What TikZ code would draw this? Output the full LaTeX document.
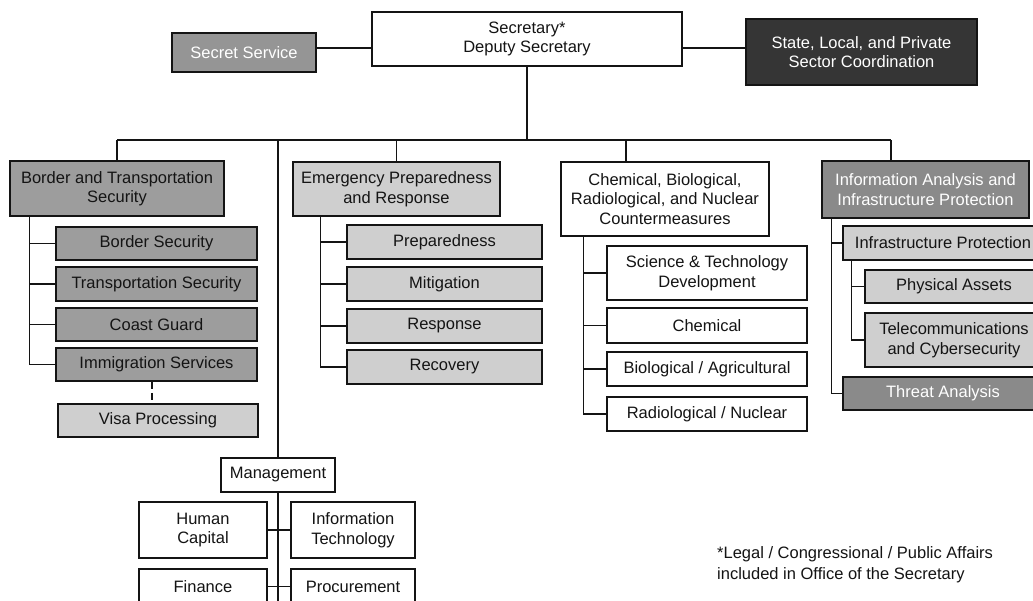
\documentclass[tikz,border=0pt]{standalone}
\usepackage{fontspec}
\setmainfont{Liberation Sans}
\definecolor{ink}{HTML}{141414}
\definecolor{midgray}{HTML}{9D9D9D}
\definecolor{ssgray}{HTML}{959595}
\definecolor{darkgray}{HTML}{8A8A8A}
\definecolor{lightgray}{HTML}{CFCFCF}
\definecolor{charcoal}{HTML}{353535}
\tikzset{
  box/.style={draw=ink, line width=1.5pt, inner sep=0pt, align=center,
              text=ink, font=\fontsize{16.5}{19.5}\selectfont},
  plainbox/.style={box, fill=white},
  midbox/.style={box, fill=midgray},
  lightbox/.style={box, fill=lightgray},
  darkbox/.style={box, fill=darkgray, text=white},
  link/.style={draw=ink, line width=1.4pt},
}
\begin{document}
\begin{tikzpicture}[x=1pt, y=-1pt]
\useasboundingbox (0,0) rectangle (1033,600);
\clip (0,0) rectangle (1033,600);
\fill[white] (0,0) rectangle (1033,600);

% top level
\node[plainbox, minimum width=310pt, minimum height=54pt] (sec) at (527,39) {Secretary*\\Deputy Secretary};
\node[box, fill=ssgray, text=white, minimum width=144pt, minimum height=39pt] (ss) at (244,52.5) {Secret Service};
\node[box, fill=charcoal, text=white, minimum width=231pt, minimum height=66pt] (slp) at (861.5,52) {State, Local, and Private\\Sector Coordination};

% Border and Transportation Security
\node[midbox, minimum width=214pt, minimum height=55pt] (bts) at (117,188.5) {Border and Transportation\\Security};
\node[midbox, minimum width=201pt, minimum height=33pt] (bs) at (156.5,243.5) {Border Security};
\node[midbox, minimum width=201pt, minimum height=34pt] (ts) at (156.5,284) {Transportation Security};
\node[midbox, minimum width=201pt, minimum height=33pt] (cg) at (156.5,324.5) {Coast Guard};
\node[midbox, minimum width=201pt, minimum height=33pt] (is) at (156.5,364.5) {Immigration Services};
\node[lightbox, minimum width=200pt, minimum height=33pt] (vp) at (158,420.5) {Visa Processing};

% Emergency Preparedness and Response
\node[lightbox, minimum width=207pt, minimum height=54pt] (epr) at (396.5,189) {Emergency Preparedness\\and Response};
\node[lightbox, minimum width=195pt, minimum height=34pt] (prep) at (444.5,242) {Preparedness};
\node[lightbox, minimum width=195pt, minimum height=34pt] (mit) at (444.5,284) {Mitigation};
\node[lightbox, minimum width=195pt, minimum height=34pt] (resp) at (444.5,326) {Response};
\node[lightbox, minimum width=195pt, minimum height=34pt] (rec) at (444.5,367) {Recovery};

% Chemical, Biological, Radiological, and Nuclear Countermeasures
\node[plainbox, minimum width=208pt, minimum height=74pt] (cbrn) at (665,199) {Chemical, Biological,\\Radiological, and Nuclear\\Countermeasures};
\node[plainbox, minimum width=200pt, minimum height=54pt] (st) at (707,273) {Science \& Technology\\Development};
\node[plainbox, minimum width=200pt, minimum height=35pt] (chem) at (707,325.5) {Chemical};
\node[plainbox, minimum width=200pt, minimum height=34pt] (bio) at (707,369) {Biological / Agricultural};
\node[plainbox, minimum width=200pt, minimum height=34pt] (rad) at (707,414) {Radiological / Nuclear};

% Information Analysis and Infrastructure Protection
\node[darkbox, minimum width=207pt, minimum height=57pt] (iaip) at (925.5,189.5) {Information Analysis and\\Infrastructure Protection};
\node[lightbox, minimum width=200pt, minimum height=34pt] (ip) at (943,243) {Infrastructure Protection};
\node[lightbox, minimum width=178pt, minimum height=33pt] (pa) at (954,286.5) {Physical Assets};
\node[lightbox, minimum width=178pt, minimum height=54pt] (tc) at (954,340) {Telecommunications\\and Cybersecurity};
\node[darkbox, minimum width=200pt, minimum height=33pt] (ta) at (943,393.5) {Threat Analysis};

% Management
\node[plainbox, minimum width=114pt, minimum height=34pt] (mgmt) at (278,475) {Management};
\node[plainbox, minimum width=128pt, minimum height=56pt] (hc) at (203,530) {Human\\Capital};
\node[plainbox, minimum width=124pt, minimum height=56pt] (it) at (353,530) {Information\\Technology};
\node[plainbox, minimum width=128pt, minimum height=35pt] (fin) at (203,586.5) {Finance};
\node[plainbox, minimum width=124pt, minimum height=35pt] (proc) at (353,586.5) {Procurement};

% footnote
\node[anchor=north west, inner sep=0pt, align=left, text=ink,
      font=\fontsize{16.5}{21}\selectfont] (note) at (717,546)
  {*Legal / Congressional / Public Affairs\\included in Office of the Secretary};

% links beside the Secretary
\draw[link] ([yshift=4.5pt]ss.east) -- ([yshift=4.5pt]ss.east -| sec.west);
\draw[link] ([yshift=4pt]slp.west) -- ([yshift=4pt]slp.west -| sec.east);

% main bus
\coordinate (bus) at (0,140);
\coordinate (cbrntop) at ([xshift=-39pt]cbrn.north);
\coordinate (iaiptop) at ([xshift=-34.5pt]iaip.north);
\draw[link] (sec.south) -- (sec.south |- bus);
\draw[link] (bts.north |- bus) -- (iaiptop |- bus);
\draw[link] (bts.north |- bus) -- (bts.north);
\draw[link] (epr.north |- bus) -- (epr.north);
\draw[link] (cbrntop |- bus) -- (cbrntop);
\draw[link] (iaiptop |- bus) -- (iaiptop);
\draw[link] (mgmt.north |- bus) -- (mgmt.north);

% Border and Transportation Security branches
\coordinate (btsbus) at ([xshift=20pt]bts.south west);
\draw[link] (btsbus) |- (is.west);
\draw[link] (btsbus |- bs.west) -- (bs.west);
\draw[link] (btsbus |- ts.west) -- (ts.west);
\draw[link] (btsbus |- cg.west) -- (cg.west);
\draw[link, dashed, dash pattern=on 7pt off 4pt] ([xshift=-4.5pt]is.south) -- ([xshift=-4.5pt]is.south |- vp.north);

% Emergency Preparedness branches
\coordinate (eprbus) at ([xshift=28pt]epr.south west);
\draw[link] (eprbus) |- (rec.west);
\draw[link] (eprbus |- prep.west) -- (prep.west);
\draw[link] (eprbus |- mit.west) -- (mit.west);
\draw[link] (eprbus |- resp.west) -- (resp.west);

% Countermeasures branches
\coordinate (cbrnbus) at ([xshift=23pt]cbrn.south west);
\draw[link] (cbrnbus) |- (rad.west);
\draw[link] (cbrnbus |- st.west) -- (st.west);
\draw[link] (cbrnbus |- chem.west) -- (chem.west);
\draw[link] (cbrnbus |- bio.west) -- (bio.west);

% Information Analysis branches
\coordinate (iaipbus) at ([xshift=10pt]iaip.south west);
\draw[link] (iaipbus) |- (ta.west);
\draw[link] (iaipbus |- ip.west) -- (ip.west);
\coordinate (ipbus) at ([xshift=9pt]ip.south west);
\draw[link] (ipbus) |- (tc.west);
\draw[link] (ipbus |- pa.west) -- (pa.west);

% Management branches
\draw[link] (mgmt.south) -- (mgmt.south |- fin.south);
\draw[link] (hc.east) -- (it.west);
\draw[link] (fin.east) -- (proc.west);
\end{tikzpicture}
\end{document}
